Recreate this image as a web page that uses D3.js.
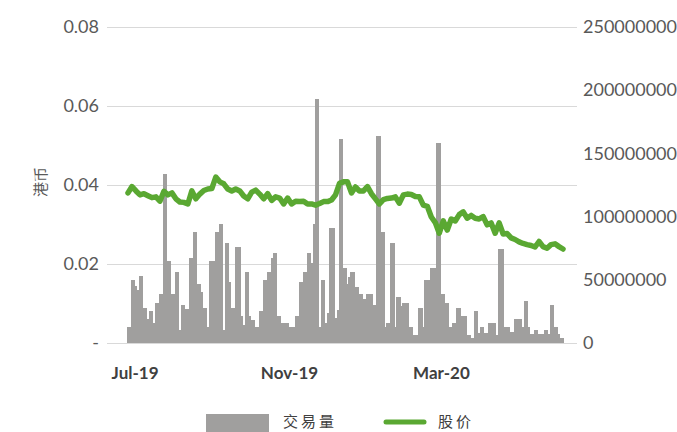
<!DOCTYPE html>
<html><head><meta charset="utf-8">
<script src="https://cdn.jsdelivr.net/npm/d3@7"></script>
<style>
body{margin:0;background:#fff}
svg{display:block}
text{font-family:Lato,"Noto Sans",sans-serif}
</style>
</head><body>
<svg id="c" width="677" height="432"></svg>
<script>
// ---- data ----
const volumeMillions = [13,13,50,50,45,42,53,53,28,28,
19,25,25,16,32,32,39,39,134,134,
65,65,39,39,56,56,10,30,30,27,
27,67,67,88,88,47,47,40,28,28,
13,65,65,65,88,88,94,94,10,79,
79,48,28,28,76,76,76,21,14,56,
56,21,18,18,13,13,25,25,50,50,
56,56,67,71,71,21,21,16,16,16,
16,13,13,13,21,21,48,48,56,56,
71,71,63,94,193,193,13,50,50,16,
24,91,91,91,20,26,161,161,59,59,
47,52,56,56,44,44,39,39,35,35,
39,39,39,30,30,164,164,88,88,13,
16,16,79,79,13,36,36,29,32,32,
32,13,13,6,6,6,28,28,13,50,
50,50,59,59,59,158,158,39,39,32,
32,13,13,16,16,28,28,21,21,21,
6,6,4,4,25,25,8,13,13,8,
8,16,16,16,16,6,74,74,74,13,
13,13,9,9,19,19,19,19,13,33,
33,13,7,7,10,10,7,7,7,10,
10,7,30,30,13,13,7,4,4];

const price = [0.0380,0.0396,0.0385,0.0375,0.0378,0.0373,0.0368,0.0370,0.0359,0.0384,
0.0375,0.0380,0.0365,0.0357,0.0356,0.0352,0.0385,0.0365,0.0377,0.0386,
0.0390,0.0391,0.0420,0.0408,0.0403,0.0390,0.0385,0.0390,0.0385,0.0372,
0.0365,0.0382,0.0387,0.0377,0.0365,0.0378,0.0361,0.0370,0.0367,0.0352,
0.0367,0.0352,0.0359,0.0358,0.0359,0.0352,0.0352,0.0349,0.0353,0.0358,
0.0358,0.0362,0.0375,0.0404,0.0408,0.0408,0.0380,0.0395,0.0385,0.0385,
0.0396,0.0378,0.0365,0.0352,0.0363,0.0366,0.0367,0.0370,0.0354,0.0375,
0.0377,0.0376,0.0371,0.0370,0.0349,0.0346,0.0319,0.0305,0.0278,0.0309,
0.0286,0.0314,0.0309,0.0325,0.0332,0.0316,0.0323,0.0316,0.0314,0.0320,
0.0299,0.0304,0.0278,0.0304,0.0276,0.0277,0.0266,0.0262,0.0256,0.0252,
0.0249,0.0247,0.0243,0.0257,0.0244,0.0240,0.0249,0.0251,0.0244,0.0238];

const leftTicks = [0, 0.02, 0.04, 0.06, 0.08];
const leftTickLabels = ["-", "0.02", "0.04", "0.06", "0.08"];
const rightTicks = [0, 50000000, 100000000, 150000000, 200000000, 250000000];
const xTickDates = ["2019-07-01", "2019-11-01", "2020-03-01"];
const dateDomain = ["2019-06-25", "2020-06-07"];
const seriesNames = ["交易量", "股价"];
const axisTitle = "港币";

// ---- drawing ----
const barColor = "#a09f9e", lineColor = "#5aa832", gridColor = "#d9d9d9";
const svg = d3.select("#c");
const plotL = 107, plotR = 577, plotT = 27, plotB = 343;
const barL = 127, barR = 564;

const yL = d3.scaleLinear().domain([0, 0.08]).range([plotB, plotT]);
const yR = d3.scaleLinear().domain([0, 250000000]).range([plotB, plotT]);
const xBand = d3.scaleBand().domain(d3.range(volumeMillions.length)).range([barL, barR]).padding(0);
const xTime = d3.scaleTime().domain(dateDomain.map(d => new Date(d + "T00:00:00"))).range([barL, barR]);
const xLine = d3.scaleLinear().domain([0, price.length - 1]).range([barL + 1, barR - 1]);

// left axis + gridlines
const gL = svg.append("g").attr("transform", `translate(${plotL},0)`)
  .call(d3.axisLeft(yL).tickValues(leftTicks).tickSize(-(plotR - plotL)).tickPadding(8)
    .tickFormat((d, i) => leftTickLabels[i]));
gL.select(".domain").remove();
gL.selectAll("line").attr("stroke", gridColor);
gL.selectAll("text").attr("fill", "#595959").style("font-size", "18px").style("font-family", "Lato");

// right axis
const gR = svg.append("g").attr("transform", `translate(${plotR},0)`)
  .call(d3.axisRight(yR).tickValues(rightTicks).tickSize(0).tickPadding(6).tickFormat(d3.format("d")));
gR.select(".domain").remove();
gR.selectAll("text").attr("fill", "#595959").style("font-size", "18px").style("font-family", "Lato");

// bars
svg.append("g").attr("shape-rendering", "crispEdges")
  .selectAll("rect").data(volumeMillions).join("rect")
  .attr("x", (d, i) => xBand(i))
  .attr("width", xBand.bandwidth() + 0.3)
  .attr("y", d => yR(d * 1e6))
  .attr("height", d => plotB - yR(d * 1e6))
  .attr("fill", barColor);

// price line
svg.append("path").datum(price)
  .attr("d", d3.line().x((d, i) => xLine(i)).y(d => yL(d)).curve(d3.curveLinear))
  .attr("fill", "none").attr("stroke", lineColor).attr("stroke-width", 5.5)
  .attr("stroke-linejoin", "round").attr("stroke-linecap", "round");

// x axis
const gX = svg.append("g").attr("transform", `translate(0,${plotB})`)
  .call(d3.axisBottom(xTime).tickValues(xTickDates.map(d => new Date(d + "T00:00:00")))
    .tickSize(0).tickPadding(24).tickFormat(d3.timeFormat("%b-%y")));
gX.select(".domain").remove();
gX.selectAll("text").attr("fill", "#404040").style("font-size", "17px").style("font-weight", "bold").style("font-family", "Lato");

// y title
svg.append("text").attr("transform", "translate(46,182) rotate(-90)")
  .attr("text-anchor", "middle")
  .style("font-family", "'Noto Sans CJK SC'").style("font-size", "15px").attr("fill", "#595959")
  .text(axisTitle);

// legend
const lg = svg.append("g");
lg.append("rect").attr("x", 206).attr("y", 414).attr("width", 63).attr("height", 18).attr("fill", barColor);
lg.append("text").attr("x", 283).attr("y", 420).attr("dominant-baseline", "central").text(seriesNames[0])
  .style("font-family", "'Noto Sans CJK SC'").style("font-size", "15px").style("letter-spacing", "3px").attr("fill", "#404040");
lg.append("line").attr("x1", 386).attr("x2", 424).attr("y1", 422).attr("y2", 422)
  .attr("stroke", lineColor).attr("stroke-width", 5).attr("stroke-linecap", "round");
lg.append("text").attr("x", 438).attr("y", 420).attr("dominant-baseline", "central").text(seriesNames[1])
  .style("font-family", "'Noto Sans CJK SC'").style("font-size", "15px").style("letter-spacing", "3px").attr("fill", "#404040");
</script>
</body></html>
